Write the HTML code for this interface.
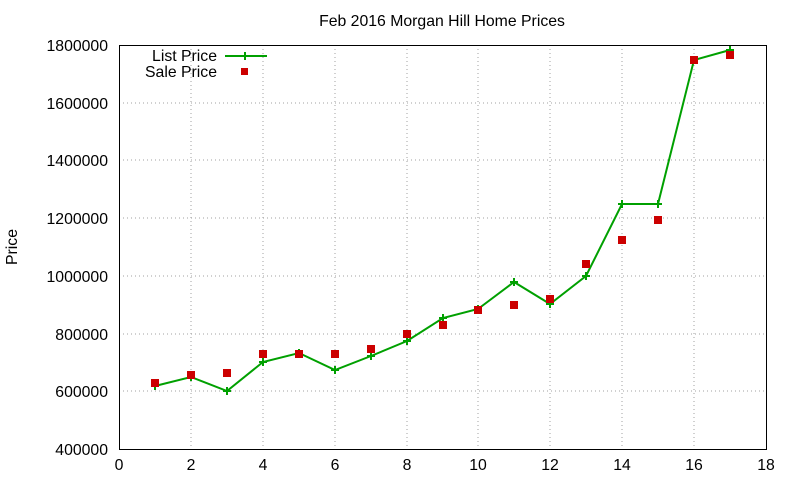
<!DOCTYPE html>
<html><head><meta charset="utf-8"><style>body{margin:0;background:#fff}svg{display:block}text{font-family:"Liberation Sans",sans-serif;font-size:15.8px;fill:#000}</style></head>
<body>
<svg width="800" height="480" xmlns="http://www.w3.org/2000/svg">
<rect width="800" height="480" fill="#fff"/>
<g stroke="#a0a0a0" stroke-width="1" stroke-dasharray="1,3">
<line x1="119" y1="391" x2="766" y2="391"/><line x1="119" y1="334" x2="766" y2="334"/><line x1="119" y1="276" x2="766" y2="276"/><line x1="119" y1="218" x2="766" y2="218"/><line x1="119" y1="160" x2="766" y2="160"/><line x1="119" y1="103" x2="766" y2="103"/>
<line x1="191" y1="45" x2="191" y2="449"/><line x1="263" y1="45" x2="263" y2="449"/><line x1="335" y1="45" x2="335" y2="449"/><line x1="407" y1="45" x2="407" y2="449"/><line x1="478" y1="45" x2="478" y2="449"/><line x1="550" y1="45" x2="550" y2="449"/><line x1="622" y1="45" x2="622" y2="449"/><line x1="694" y1="45" x2="694" y2="449"/>
</g>
<rect x="119.5" y="45.5" width="647" height="404" fill="none" stroke="#000"/>
<g text-anchor="end">
<text x="108" y="455">400000</text><text x="108" y="397">600000</text><text x="108" y="340">800000</text><text x="108" y="282">1000000</text><text x="108" y="224">1200000</text><text x="108" y="166">1400000</text><text x="108" y="109">1600000</text><text x="108" y="51">1800000</text>
</g>
<g text-anchor="middle">
<text x="119" y="470">0</text><text x="191" y="470">2</text><text x="263" y="470">4</text><text x="335" y="470">6</text><text x="407" y="470">8</text><text x="478" y="470">10</text><text x="550" y="470">12</text><text x="622" y="470">14</text><text x="694" y="470">16</text><text x="766" y="470">18</text>
<text x="442" y="26">Feb 2016 Morgan Hill Home Prices</text>
</g>
<text transform="translate(17,247) rotate(-90)" text-anchor="middle">Price</text>
<text x="217" y="61" text-anchor="end">List Price</text>
<text x="217" y="77" text-anchor="end">Sale Price</text>
<line x1="225" y1="56" x2="267" y2="56" stroke="#00a000" stroke-width="2"/>
<path d="M241 56h8M245 52v8" stroke="#00a000" stroke-width="2"/>
<rect x="241" y="68" width="7" height="7" fill="#cc0000"/>
<polyline fill="none" stroke="#00a000" stroke-width="2" points="155,386 191,377 227,391 263,362 299,353 335,370 371,356 407,341 443,318 478,309 514,282 550,304 586,276 622,204 658,204 694,60 730,50"/>
<g stroke="#00a000" stroke-width="2">
<path d="M151 386h8M155 382v8M187 377h8M191 373v8M223 391h8M227 387v8M259 362h8M263 358v8M295 353h8M299 349v8M331 370h8M335 366v8M367 356h8M371 352v8M403 341h8M407 337v8M439 318h8M443 314v8M474 309h8M478 305v8M510 282h8M514 278v8M546 304h8M550 300v8M582 276h8M586 272v8M618 204h8M622 200v8M654 204h8M658 200v8M690 60h8M694 56v8M726 50h8M730 46v8"/>
</g>
<g fill="#cc0000">
<rect x="151" y="379" width="8" height="8"/><rect x="187" y="371" width="8" height="8"/><rect x="223" y="369" width="8" height="8"/><rect x="259" y="350" width="8" height="8"/><rect x="295" y="350" width="8" height="8"/><rect x="331" y="350" width="8" height="8"/><rect x="367" y="345" width="8" height="8"/><rect x="403" y="330" width="8" height="8"/><rect x="439" y="321" width="8" height="8"/><rect x="474" y="306" width="8" height="8"/><rect x="510" y="301" width="8" height="8"/><rect x="546" y="295" width="8" height="8"/><rect x="582" y="260" width="8" height="8"/><rect x="618" y="236" width="8" height="8"/><rect x="654" y="216" width="8" height="8"/><rect x="690" y="56" width="8" height="8"/><rect x="726" y="51" width="8" height="8"/>
</g>
</svg>
</body></html>
